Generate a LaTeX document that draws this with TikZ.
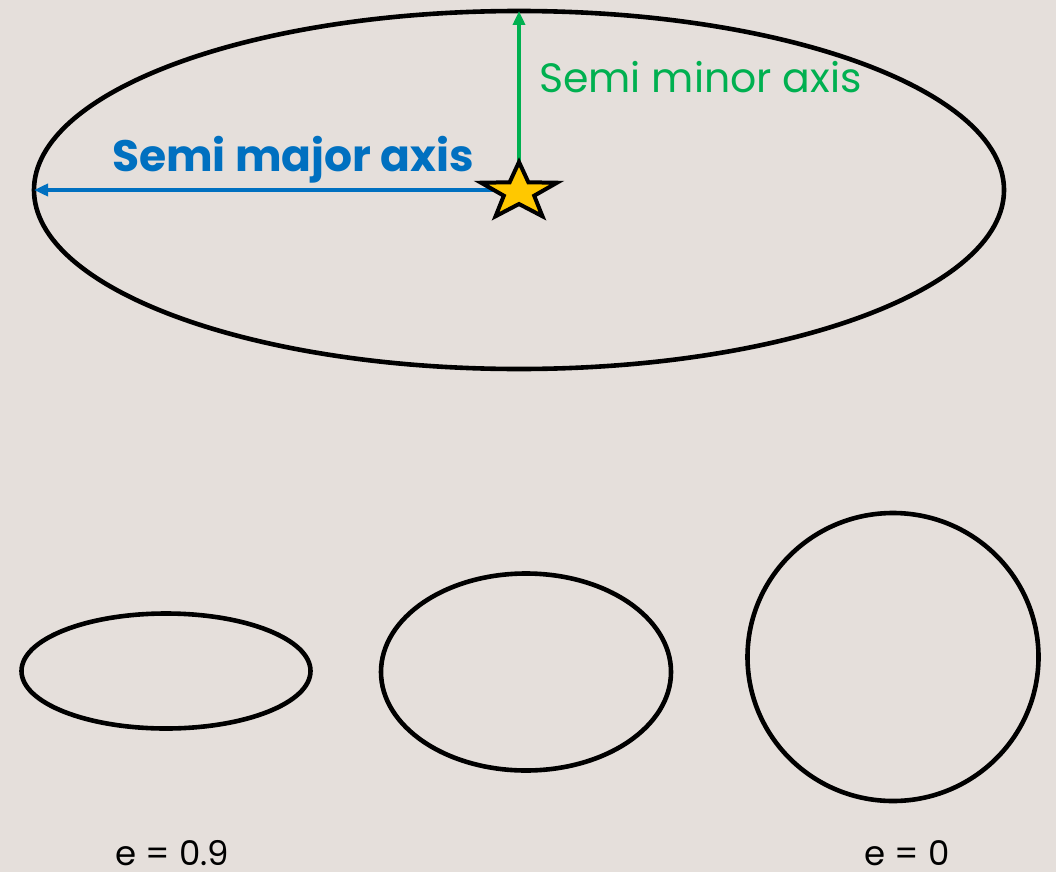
\documentclass[tikz,border=0pt]{standalone}
\usepackage{fontspec}
\setmainfont{Poppins}
\usetikzlibrary{arrows.meta,shapes.geometric}
\definecolor{paper}{HTML}{E5DFDB}
\definecolor{green}{HTML}{00B050}
\definecolor{blue}{HTML}{0070C0}
\definecolor{gold}{HTML}{FFC800}
\begin{document}
\begin{tikzpicture}[x=1pt,y=-1pt,orbit/.style={ellipse,draw=black,line width=4.6pt,inner sep=0pt,outer sep=0pt},axis/.style={-{Triangle[length=14pt,width=12pt]},line width=3.6pt},label/.style={anchor=base west,inner sep=0pt},ecc/.style={label,font=\fontsize{34}{40}\selectfont}]
 \fill[paper] (0,0) rectangle (1056,872);
 \useasboundingbox (0,0) rectangle (1056,872);
 \node[orbit,minimum width=970pt,minimum height=358pt] (big) at (519,190) {};
 \coordinate (focus) at (519,190);
 \draw[axis,blue] (focus) -- (big.west);
 \draw[axis,green] (focus) -- (big.north);
 \begin{scope}[shift={(519,192)},xscale=1.33]
  \node[star,star points=5,star point ratio=2.5,minimum size=60pt,inner sep=0pt,draw=black,fill=gold,line width=4pt,transform shape] (sun) {};
 \end{scope}
 \node[label,text=green,font=\fontsize{41}{48}\selectfont] (minor) at (539,93) {Semi minor axis};
 \node[label,text=blue,font=\bfseries\fontsize{44}{48}\selectfont] (major) at (112,171) {Semi major axis};
 % eccentricity examples
 \node[orbit,minimum width=289pt,minimum height=115pt] (flat) at (166,671) {};
 \node[orbit,minimum width=290pt,minimum height=197pt] (mid) at (526,672) {};
 \node[orbit,minimum width=291pt,minimum height=288pt] (round) at (893,657) {};
 \node[ecc] (eflat) at (115,865) {e = 0.9};
 \node[ecc] (eround) at (864,865) {e = 0};
\end{tikzpicture}
\end{document}
